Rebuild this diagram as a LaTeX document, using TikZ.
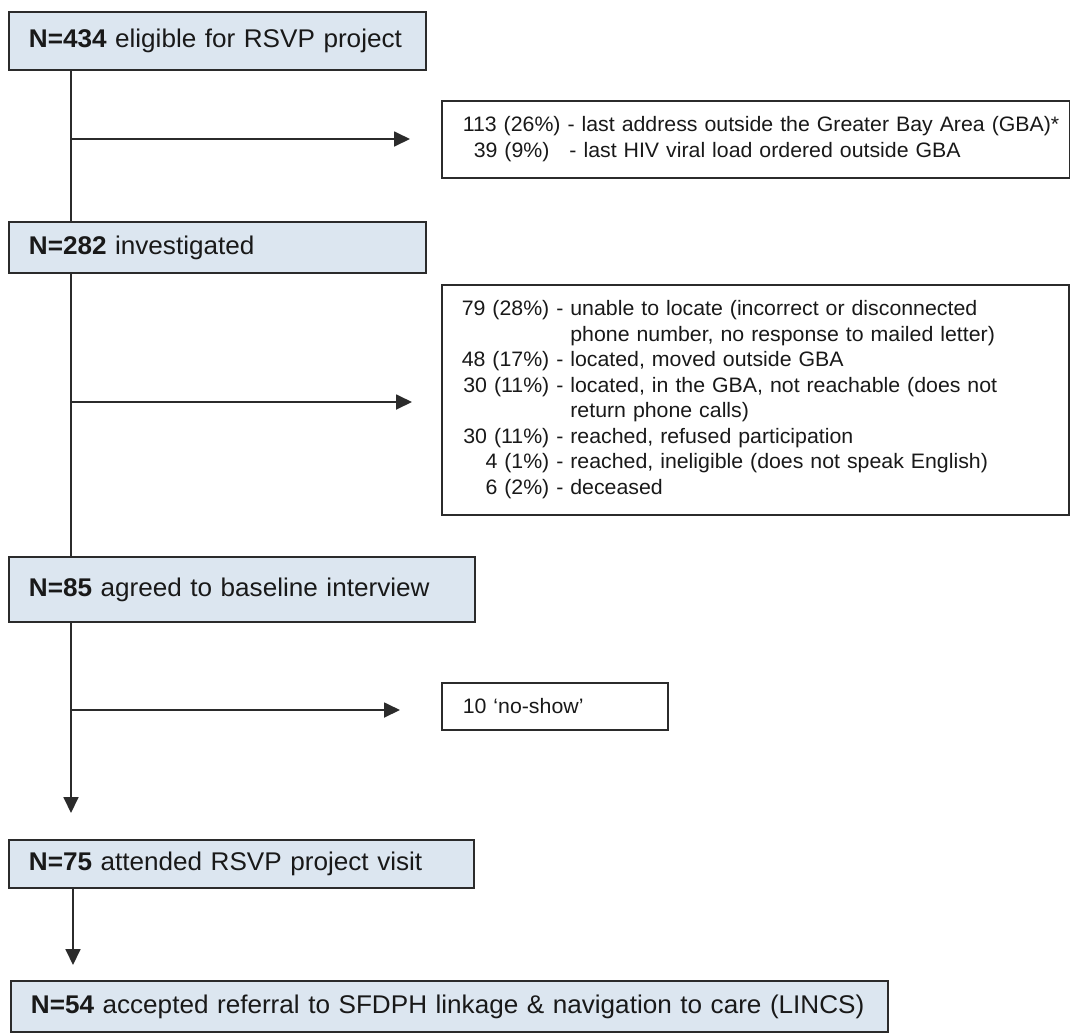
\documentclass[tikz,border=0pt]{standalone}
\usepackage{fontspec}
\setmainfont{Liberation Sans}[FakeStretch=1.02]
\usetikzlibrary{arrows.meta}
\definecolor{boxfill}{HTML}{DCE6F0}
\definecolor{lineclr}{HTML}{2B2B2B}
\begin{document}
\begin{tikzpicture}[x=1pt,y=-1pt,
  mainbox/.style={draw=lineclr, line width=1.8pt, fill=boxfill, anchor=north west,
    inner xsep=20pt, inner ysep=0pt, align=left,
    font=\fontsize{25.6}{31}\selectfont, text=black!90},
  sidebox/.style={draw=lineclr, line width=1.6pt, fill=white, anchor=north west,
    inner xsep=20pt, inner ysep=0pt, align=left,
    font=\fontsize{20.9}{25.5}\selectfont, text=black!90},
  conn/.style={draw=lineclr, line width=1.8pt},
  arr/.style={conn, -{Triangle[length=16pt,width=15pt]}}
]
\useasboundingbox (0,0) rectangle (1070,1034);

% main boxes
\node[mainbox, minimum width=417pt, minimum height=58pt, text width=377pt] (b1) at (8,11)
  {\mbox{\textbf{N=434} eligible for RSVP project}};
\node[mainbox, minimum width=417pt, minimum height=51pt, text width=377pt] (b2) at (8,221)
  {\mbox{\textbf{N=282} investigated}};
\node[mainbox, minimum width=466pt, minimum height=65pt, text width=426pt] (b3) at (8,556)
  {\mbox{\textbf{N=85} agreed to baseline interview}\\[-7pt]};
\node[mainbox, minimum width=465pt, minimum height=48pt, text width=425pt] (b4) at (8,839)
  {\mbox{\textbf{N=75} attended RSVP project visit}};
\node[mainbox, minimum width=877pt, minimum height=51pt, text width=837pt] (b5) at (10,980)
  {\mbox{\textbf{N=54} accepted referral to SFDPH linkage \& navigation to care (LINCS)}};

% side boxes
\node[sidebox, minimum width=627pt, minimum height=77pt, text width=586pt, inner xsep=21pt] (s1) at (441,100)
  {\mbox{113 (26\%) - last address outside the Greater Bay Area (GBA)*}\\
   \mbox{\hspace*{11pt}39 (9\%)\hspace*{20pt}- last HIV viral load ordered outside GBA}};
\node[sidebox, minimum width=627pt, minimum height=230pt, text width=587pt] (s2) at (441,284)
  {\begin{tabular}{@{}r@{ }l@{}}
   79 (28\%) & - unable to locate (incorrect or disconnected\\
             & \phantom{- }phone number, no response to mailed letter)\\
   48 (17\%) & - located, moved outside GBA\\
   30 (11\%) & - located, in the GBA, not reachable (does not\\
             & \phantom{- }return phone calls)\\
   30 (11\%) & - reached, refused participation\\
   4 (1\%)   & - reached, ineligible (does not speak English)\\
   6 (2\%)   & - deceased
   \end{tabular}};
\node[sidebox, minimum width=225pt, minimum height=47pt, text width=184pt, inner xsep=21pt] (s3) at (441,682)
  {10 `no-show'};

% junction coordinates on the trunk
\coordinate (j1) at (71,139);
\coordinate (j2) at (71,402);
\coordinate (j3) at (71,710);
\coordinate (j4) at (73,900);

% trunk
\draw[conn] (b1.south -| j1) -- (b2.north -| j1);
\draw[conn] (b2.south -| j1) -- (b3.north -| j1);
\draw[arr, shorten >=26pt] (b3.south -| j1) -- (b4.north -| j1);
\draw[arr, shorten >=15pt] (b4.south -| j4) -- (b5.north -| j4);

% side arrows
\draw[arr, shorten >=31pt] (j1) -- (s1.west |- j1);
\draw[arr, shorten >=29pt] (j2) -- (s2.west |- j2);
\draw[arr, shorten >=41pt] (j3) -- (s3.west |- j3);
\end{tikzpicture}
\end{document}
